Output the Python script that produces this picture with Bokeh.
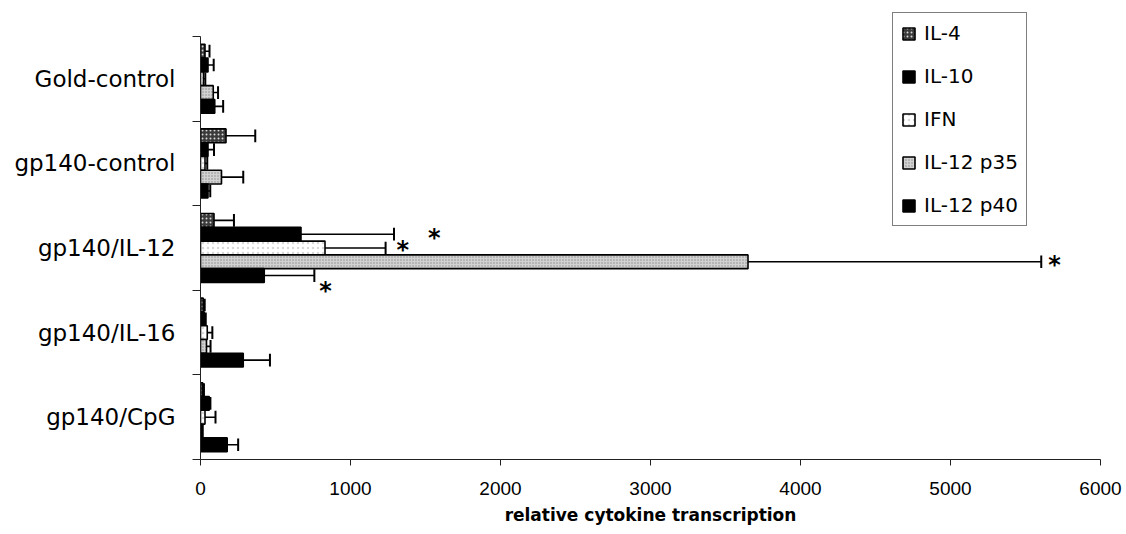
from bokeh.plotting import figure
from bokeh.models import Range1d, FixedTicker, ColumnDataSource, Legend, LegendItem
from bokeh.core.properties import value
from bokeh.embed import file_html
from bokeh.resources import INLINE

# ---- data ----
categories = ["Gold-control", "gp140-control", "gp140/IL-12", "gp140/IL-16", "gp140/CpG"]
series = ["IL-4", "IL-10", "IFN", "IL-12 p35", "IL-12 p40"]

il4 = [30, 170, 90, 18, 15]
il4_err = [30, 195, 133, 10, 8]
il10 = [50, 50, 670, 25, 58]
il10_err = [38, 40, 620, 10, 8]
ifn = [20, 30, 830, 45, 30]
ifn_err = [12, 15, 404, 34, 70]
p35 = [85, 140, 3650, 40, 10]
p35_err = [32, 145, 1955, 27, 5]
p40 = [95, 50, 425, 285, 178]
p40_err = [56, 15, 334, 178, 73]

x_ticks = [0, 1000, 2000, 3000, 4000, 5000, 6000]

# significance markers (group, series)
sig_group = ["gp140/IL-12"] * 4
sig_series = ["IL-10", "IFN", "IL-12 p35", "IL-12 p40"]

values = [il4, il10, ifn, p35, p40]
errors = [il4_err, il10_err, ifn_err, p35_err, p40_err]

n = len(categories)
bar_h = 0.163

p = figure(width=1126, height=534, output_backend="svg", toolbar_location=None,
           x_range=Range1d(0, 6000), y_range=Range1d(0, n + 0.307),
           min_border_left=200, min_border_right=26, min_border_top=10,
           min_border_bottom=75)
p.outline_line_color = None
p.grid.visible = False
p.background_fill_color = "white"
p.border_fill_color = "white"

styles = [
    dict(fill_color="#3a3a3a", hatch_pattern="dot", hatch_color="#d8d8d8", hatch_scale=4, hatch_weight=1),
    dict(fill_color="black"),
    dict(fill_color="white", hatch_pattern="dot", hatch_color="#d8d8d8", hatch_scale=5, hatch_weight=1),
    dict(fill_color="#d2d2d2", hatch_pattern="dot", hatch_color="#8a8a8a", hatch_scale=3, hatch_weight=1),
    dict(fill_color="black"),
]

def ypos(ci, k):
    center = (n - 1 - ci) + 0.5
    return center + 2 * bar_h - k * bar_h

items = []
for k, s in enumerate(series):
    ys = [ypos(ci, k) for ci in range(n)]
    vals = values[k]
    errs = errors[k]
    src = ColumnDataSource(dict(y=ys, right=vals,
                                hi=[v + e for v, e in zip(vals, errs)]))
    r = p.hbar(y="y", left=0, right="right", height=bar_h, source=src,
               line_color="black", line_width=1.6, **styles[k])
    p.segment(x0="right", x1="hi", y0="y", y1="y", source=src,
              line_color="black", line_width=1.6)
    cap = ColumnDataSource(dict(x=src.data["hi"], y0=[y - 0.075 for y in ys],
                                y1=[y + 0.075 for y in ys]))
    p.segment(x0="x", x1="x", y0="y0", y1="y1", source=cap,
              line_color="black", line_width=2)
    items.append(LegendItem(label=s, renderers=[r]))

# significance stars
sx, sy = [], []
for g, s in zip(sig_group, sig_series):
    ci = categories.index(g)
    k = series.index(s)
    sx.append(values[k][ci] + errors[k][ci])
    sy.append(ypos(ci, k))
star_src = ColumnDataSource(dict(x=sx, y=sy, t=["*"] * len(sx),
                                 xo=[34, 11, 7, 5], yo=[4, 2, 3, 15]))
p.text(x="x", y="y", text="t", source=star_src, x_offset="xo", y_offset="yo",
       text_font=value("DejaVu Sans"), text_font_style="bold",
       text_font_size="24px", text_color="black",
       text_align="left", text_baseline="middle")

# x axis
xa = p.xaxis[0]
xa.ticker = FixedTicker(ticks=x_ticks)
xa.minor_tick_line_color = None
xa.major_tick_out = 6
xa.major_tick_in = 0
xa.major_label_standoff = 16
xa.major_label_text_font = "Liberation Sans"
xa.major_label_text_font_size = "19px"
xa.major_label_text_color = "black"
xa.axis_line_color = "#222222"
xa.major_tick_line_color = "#222222"
xa.axis_label = "relative cytokine transcription"
xa.axis_label_text_font = "DejaVu Sans"
xa.axis_label_text_font_style = "bold"
xa.axis_label_text_font_size = "17px"
xa.axis_label_text_color = "black"
xa.axis_label_standoff = 7

# y axis: labels at group centres, ticks at group boundaries
ya = p.yaxis[0]
ya.bounds = (0, n)
ya.ticker = FixedTicker(ticks=[i + 0.5 for i in range(n)],
                        minor_ticks=list(range(n + 1)))
ya.major_label_overrides = {i + 0.5: categories[n - 1 - i] for i in range(n)}
ya.major_tick_out = 0
ya.major_tick_in = 0
ya.minor_tick_out = 8
ya.minor_tick_in = 0
ya.minor_tick_line_color = "#222222"
ya.axis_line_color = "#222222"
ya.major_label_standoff = 17
ya.major_label_text_font = "DejaVu Sans"
ya.major_label_text_font_size = "23px"
ya.major_label_text_color = "black"

legend = Legend(items=items, location=(692, 233),
                label_text_font="DejaVu Sans", label_text_font_size="20px",
                label_text_color="black",
                glyph_width=15, glyph_height=15, label_height=20,
                label_standoff=8, spacing=19, padding=8, margin=0,
                border_line_color="black", border_line_width=1,
                background_fill_color="white", background_fill_alpha=1)
p.add_layout(legend, "center")

open("out.html", "w").write(file_html(p, INLINE))
